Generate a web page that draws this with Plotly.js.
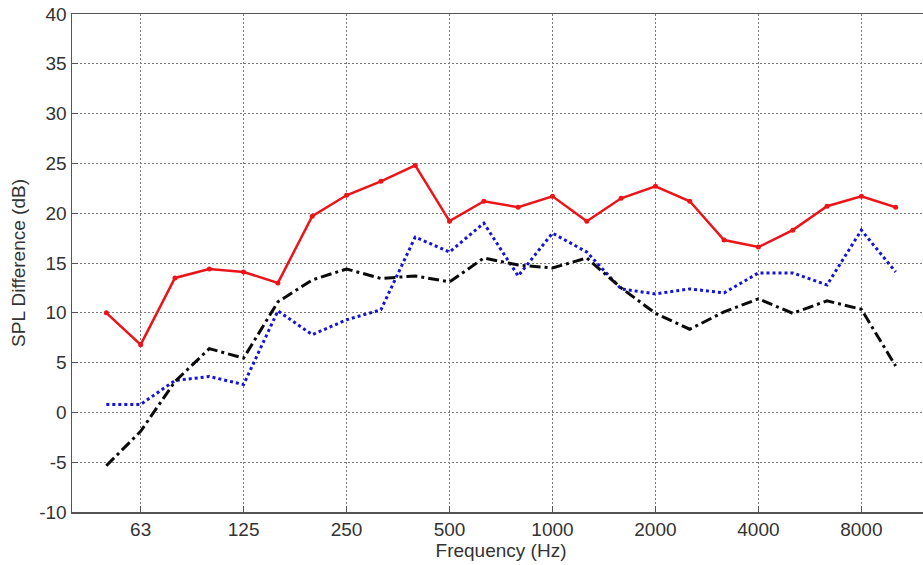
<!DOCTYPE html>
<html>
<head>
<meta charset="utf-8">
<script src="https://cdn.plot.ly/plotly-3.0.1.min.js"></script>
<style>
html,body{margin:0;padding:0;overflow:hidden;background:#fff;width:923px;height:565px;}
#chart{width:935px;height:565px;}
</style>
</head>
<body>
<div id="chart"></div>
<script>
const freqs = ["50","63","80","100","125","160","200","250","315","400","500","630","800","1000","1250","1600","2000","2500","3150","4000","5000","6300","8000","10000"];
const tickLabels = ["63","125","250","500","1000","2000","4000","8000"];
const yTickVals = [-10,-5,0,5,10,15,20,25,30,35,40];
const yTickText = ["-10","-5","0","5","10","15","20","25","30","35","40"];
const redValues = [10.0,6.8,13.5,14.4,14.1,13.0,19.7,21.8,23.2,24.8,19.2,21.2,20.6,21.7,19.2,21.5,22.7,21.2,17.3,16.6,18.3,20.7,21.7,20.6];
const blueValues = [0.8,0.8,3.2,3.6,2.8,10.2,7.8,9.3,10.3,17.6,16.1,19.0,13.7,18.0,16.1,12.4,11.9,12.4,12.0,14.0,14.0,12.8,18.3,14.1];
const blackValues = [-5.35,-1.9,3.1,6.4,5.45,11.1,13.3,14.4,13.45,13.7,13.1,15.5,14.8,14.5,15.5,12.5,9.95,8.35,10.1,11.4,9.95,11.2,10.35,4.65];

const traces = [
  {x: freqs, y: redValues, mode: 'lines+markers', type: 'scatter',
   line: {color: 'rgb(235,20,25)', width: 2.5},
   marker: {color: 'rgb(235,20,25)', size: 5}},
  {x: freqs, y: blueValues, mode: 'lines', type: 'scatter',
   line: {color: 'rgb(20,20,215)', width: 3, dash: 'dot'}},
  {x: freqs, y: blackValues, mode: 'lines', type: 'scatter',
   line: {color: 'rgb(10,10,10)', width: 3, dash: '11px,4px,3px,4px'}}
];

const layout = {
  width: 935, height: 565,
  margin: {l: 72, r: 5, t: 14, b: 53},
  paper_bgcolor: '#fff', plot_bgcolor: '#fff',
  showlegend: false,
  font: {family: 'Liberation Sans, Arial, sans-serif', color: '#333'},
  xaxis: {
    type: 'category', range: [-1, 24],
    tickmode: 'array', tickvals: tickLabels, ticktext: tickLabels,
    showgrid: true, gridcolor: '#7a7a7a', griddash: '2px,2px', gridwidth: 1,
    showline: true, linecolor: '#555', linewidth: 1.5, mirror: true,
    ticks: 'inside', ticklen: 6, tickcolor: '#555',
    tickfont: {size: 19, color: '#333'},
    title: {text: 'Frequency (Hz)', font: {size: 19, color: '#333'}, standoff: 0},
    zeroline: false
  },
  yaxis: {
    range: [-10, 40], tickmode: 'array',
    tickvals: yTickVals, ticktext: yTickText,
    showgrid: true, gridcolor: '#7a7a7a', griddash: '2px,2px', gridwidth: 1,
    showline: true, linecolor: '#555', linewidth: 1.5, mirror: true,
    ticks: 'inside', ticklen: 6, tickcolor: '#555',
    tickfont: {size: 19, color: '#333'},
    title: {text: 'SPL Difference (dB)', font: {size: 19, color: '#333'}, standoff: 8},
    zeroline: false
  }
};
Plotly.newPlot('chart', traces, layout, {displayModeBar: false, staticPlot: true});
</script>
</body>
</html>
